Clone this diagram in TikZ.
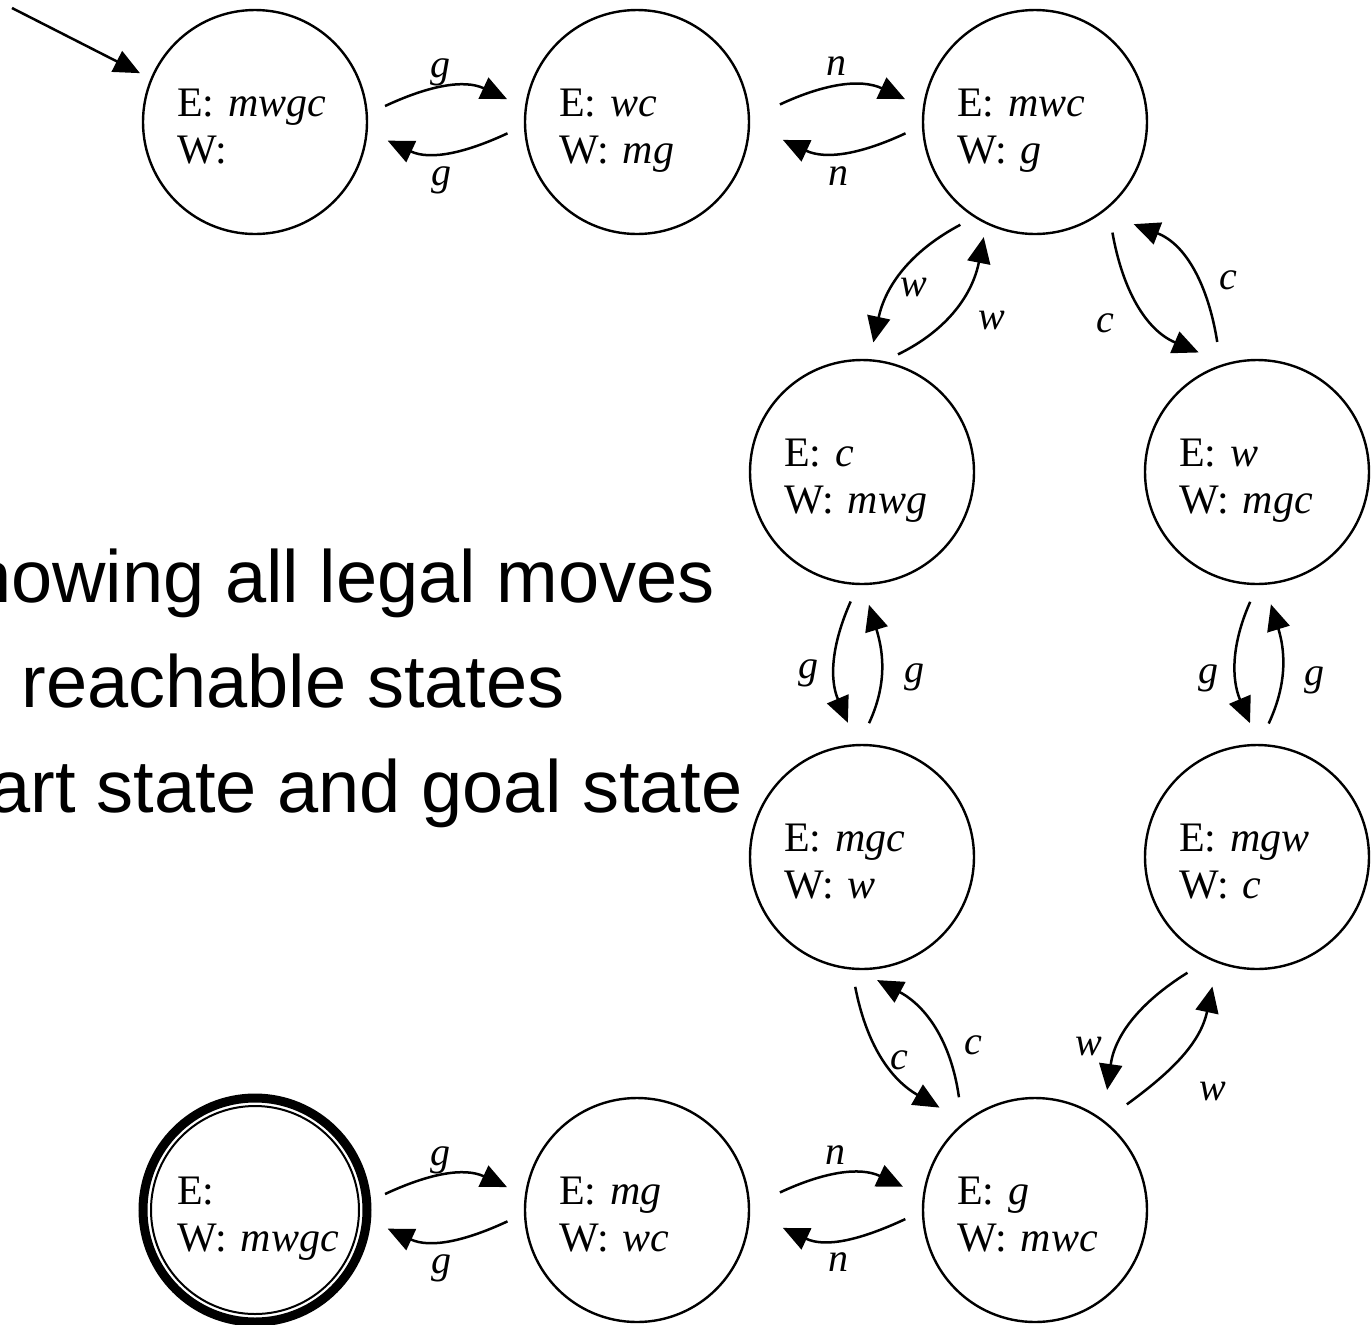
\documentclass[tikz,border=0pt]{standalone}
\usepackage{fontspec}
\setmainfont{Liberation Serif}
\newfontfamily\captionsans{Liberation Sans}
\usetikzlibrary{arrows.meta,calc}

\begin{document}
\begin{tikzpicture}[x=0.5pt,y=0.5pt,
  state/.style={circle, draw, line width=1.2pt, minimum size=112pt,
    inner sep=0pt, outer sep=0pt, text width=78pt, align=left,
    text height=14pt, text depth=20pt,
    font=\fontsize{21}{23.5}\selectfont},
  goal/.style={state, line width=4.5pt},
  move/.style={-{Triangle[length=13pt,width=11.5pt]}, line width=1.25pt},
  lbl/.style={font=\fontsize{20}{24}\selectfont\itshape, inner sep=3pt,
    text height=9.5pt, text depth=4.5pt},
  caption/.style={font=\captionsans\fontsize{37}{42}\selectfont,
    anchor=base east, inner sep=0pt},
]
\useasboundingbox (0,0) rectangle (1372,-1324);
\clip (0,0) rectangle (1372,-1324);

% caption lines on the left
\node[caption] (cap1) at (715,-602) {showing all legal moves};
\node[caption] (cap2) at (565,-707) {reachable states};
\node[caption] (cap3) at (743,-812) {start state and goal state};

% states: which bank (E/W) holds man, wolf, goat, cabbage
\node[state] (A) at (255,-122)  {E: \textit{mwgc}\\W:};
\node[state] (B) at (637,-122)  {E: \textit{wc}\\W: \textit{mg}};
\node[state] (C) at (1035,-122) {E: \textit{mwc}\\W: \textit{g}};
\node[state] (D) at (862,-472)  {E: \textit{c}\\W: \textit{mwg}};
\node[state] (E) at (1257,-472) {E: \textit{w}\\W: \textit{mgc}};
\node[state] (F) at (862,-857)  {E: \textit{mgc}\\W: \textit{w}};
\node[state] (G) at (1257,-857) {E: \textit{mgw}\\W: \textit{c}};
\node[goal]  (H) at (255,-1210) {E:\\\mbox{W: \textit{mwgc}}};
\node[state] (I) at (637,-1210) {E: \textit{mg}\\W: \textit{wc}};
\node[state] (J) at (1035,-1210) {E: \textit{g}\\W: \textit{mwc}};
\draw[line width=1pt] (H.center) circle[radius=52pt];

% start marker
\coordinate (s0) at (12,-8);
\draw[move] (s0) -- ($(A)+(157:125)$);

% moves along the top row
\draw[move] ($(A)+(7:131)$) to[out=25,in=155]
  node[lbl,above,xshift=-3pt,yshift=-3pt]{g} ($(B)+(170:132)$);
\draw[move] ($(B)+(185:130)$) to[out=205,in=-25]
  node[lbl,below,xshift=-3pt,yshift=-3.5pt]{g} ($(A)+(-8:134)$);
\draw[move] ($(B)+(7:144)$) to[out=25,in=155]
  node[lbl,above,xshift=-3pt,yshift=-3pt]{n} ($(C)+(170:132)$);
\draw[move] ($(C)+(185:130)$) to[out=205,in=-25]
  node[lbl,below,xshift=-3pt,yshift=-3.5pt]{n} ($(B)+(-7:147)$);

% moves around the right-hand loop
\draw[move] ($(C)+(234:127)$) to[out=208,in=78]
  node[lbl,pos=.55,right,xshift=-2.5pt,yshift=-6.5pt]{w} ($(D)+(85:130)$);
\draw[move] ($(D)+(73:123)$) to[out=26,in=259]
  node[lbl,pos=.4,right,xshift=12pt,yshift=-3pt]{w} ($(C)+(246:126)$);
\draw[move] ($(C)+(305:135)$) to[out=280,in=157]
  node[lbl,pos=.7,left,xshift=-18.5pt]{c} ($(E)+(116:133)$);
\draw[move] ($(E)+(107:136)$) to[out=99,in=-21]
  node[lbl,pos=.5,right,xshift=10pt,yshift=-7.5pt]{c} ($(C)+(314:142)$);

\draw[move] ($(D)+(265:130)$) to[out=246,in=113]
  node[lbl,left,xshift=-4.5pt,yshift=-5.5pt]{g} ($(F)+(96:135)$);
\draw[move] ($(F)+(87:134)$) to[out=65,in=287]
  node[lbl,right,xshift=8pt,yshift=-6.5pt]{g} ($(D)+(273:133)$);
\draw[move] ($(E)+(267:130)$) to[out=246,in=113]
  node[lbl,left,xshift=-5pt,yshift=-8pt]{g} ($(G)+(93:134)$);
\draw[move] ($(G)+(85:134)$) to[out=65,in=287]
  node[lbl,right,xshift=7.5pt,yshift=-8pt]{g} ($(E)+(276:133)$);

\draw[move] ($(F)+(267:130)$) to[out=281,in=150]
  node[lbl,pos=.5,right,yshift=-3.5pt]{c} ($(J)+(133:140)$);
\draw[move] ($(J)+(124:136)$) to[out=98,in=-28]
  node[lbl,pos=.45,right,xshift=10pt,yshift=-8pt]{c} ($(F)+(277:124)$);
\draw[move] ($(G)+(239:135)$) to[out=212,in=82]
  node[lbl,pos=.55,left,xshift=-9.5pt,yshift=-11.5pt]{w} ($(J)+(59:140)$);
\draw[move] ($(J)+(49:140)$) to[out=36,in=258]
  node[lbl,pos=.3,below right,xshift=14.5pt]{w} ($(G)+(251:137)$);

% moves along the bottom row
\draw[move] ($(H)+(7:131)$) to[out=25,in=155]
  node[lbl,above,xshift=-3pt,yshift=-3pt]{g} ($(I)+(170:132)$);
\draw[move] ($(I)+(185:130)$) to[out=205,in=-25]
  node[lbl,below,xshift=-3pt,yshift=-3.5pt]{g} ($(H)+(-8:134)$);
\draw[move] ($(I)+(7:144)$) to[out=25,in=155]
  node[lbl,above,xshift=-3pt,yshift=-3pt]{n} ($(J)+(170:134)$);
\draw[move] ($(J)+(184:130)$) to[out=205,in=-25]
  node[lbl,below,xshift=-3pt,yshift=-3.5pt]{n} ($(I)+(-7:147)$);
\end{tikzpicture}
\end{document}
